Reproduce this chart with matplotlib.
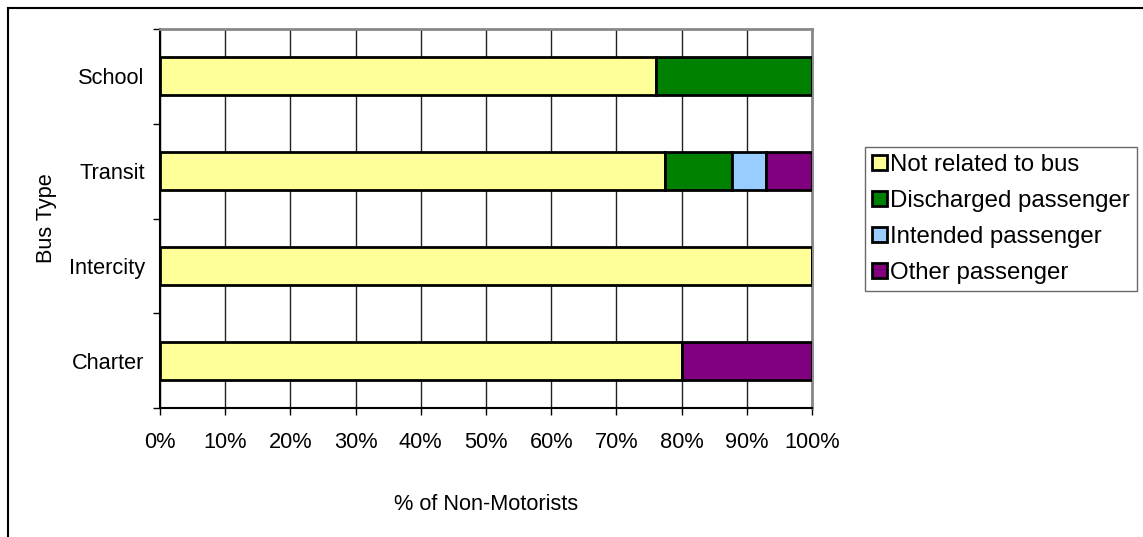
import numpy as np
import matplotlib.pyplot as plt
from matplotlib.lines import Line2D

plt.rcParams['font.family'] = ['Liberation Sans', 'DejaVu Sans']

# bottom to top
bus_types = ['Charter', 'Intercity', 'Transit', 'School']
not_related = [80.0, 100.0, 77.5, 76.0]
discharged = [0.0, 0.0, 10.3, 24.0]
intended = [0.0, 0.0, 5.2, 0.0]
other = [20.0, 0.0, 7.0, 0.0]

series = [('Not related to bus', not_related, '#ffff99'),
          ('Discharged passenger', discharged, '#008000'),
          ('Intended passenger', intended, '#99ccff'),
          ('Other passenger', other, '#800080')]

fig = plt.figure(figsize=(11.43, 5.37), dpi=100)
ax = fig.add_axes([160/1143, 1 - 408/537, 652/1143, 379/537])

y = np.arange(len(bus_types))
left = np.zeros(len(bus_types))
for name, vals, col in series:
    vals = np.array(vals)
    ax.barh(y, vals, left=left, height=0.4, color=col, edgecolor='black',
            linewidth=2, label=name, zorder=3)
    left += vals

ax.set_xlim(0, 100)
ax.set_ylim(-0.5, len(bus_types) - 0.5)
ax.set_xticks(np.arange(0, 101, 10))
ax.set_xticklabels([f'{v}%' for v in range(0, 101, 10)])
ax.set_yticks(y)
ax.set_yticklabels(bus_types)
ax.set_yticks(np.arange(-0.5, len(bus_types), 1), minor=True)
ax.tick_params(axis='y', which='major', length=0, pad=11, labelsize=15.7)
ax.tick_params(axis='y', which='minor', length=5, width=1, direction='out')
ax.tick_params(axis='x', length=5, width=1, direction='out', pad=12, labelsize=15.7)
ax.xaxis.grid(True, color='#222222', linewidth=1, zorder=0)
ax.set_axisbelow(True)

for s in ['left', 'bottom']:
    ax.spines[s].set_color('black')
    ax.spines[s].set_linewidth(1.5)
for s in ['top', 'right']:
    ax.spines[s].set_color('#888888')
    ax.spines[s].set_linewidth(2)

ax.set_xlabel('% of Non-Motorists', fontsize=15.7, labelpad=30)
ax.set_ylabel('Bus Type', fontsize=15.7, labelpad=8)

fig.legend(loc='upper left', bbox_to_anchor=(865/1143, 1 - 147/537),
           fontsize=17.3, frameon=True, fancybox=False, edgecolor='#444444',
           handlelength=0.6, handleheight=0.6, handletextpad=0.15,
           labelspacing=0.58, borderpad=0.3, borderaxespad=0)

# outer chart frame (only top and left visible in the crop)
fig.add_artist(Line2D([8/1143, 1], [1 - 8/537, 1 - 8/537], color='black', linewidth=1.5))
fig.add_artist(Line2D([8/1143, 8/1143], [0, 1 - 8/537], color='black', linewidth=1.5))

fig.savefig('out.png', dpi=100)
